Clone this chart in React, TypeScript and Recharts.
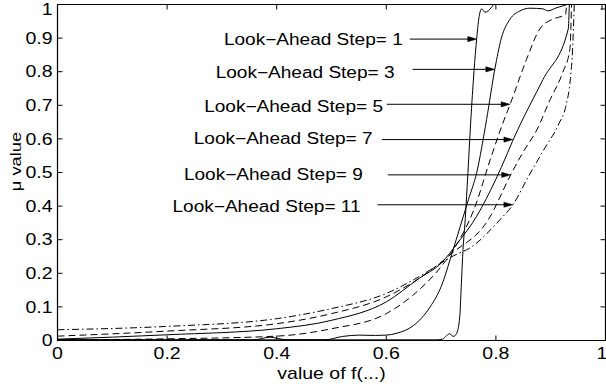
import React from 'react';
import { LineChart, Line, XAxis, YAxis, ReferenceDot, ReferenceLine, ReferenceArea, Label } from 'recharts';

const xTicks = [0, 0.2, 0.4, 0.6, 0.8, 1];
const yTicks = [0, 0.1, 0.2, 0.3, 0.4, 0.5, 0.6, 0.7, 0.8, 0.9, 1];

const step1X = [0, 0.2, 0.4, 0.6, 0.69, 0.703, 0.71, 0.716, 0.722, 0.728, 0.734, 0.737, 0.74, 0.744, 0.749, 0.754, 0.76, 0.765, 0.77, 0.774, 0.78, 0.786, 0.792, 0.796];
const step1Y = [0.002, 0.002, 0.002, 0.002, 0.002, 0.004, 0.015, 0.02, 0.012, 0.02, 0.07, 0.17, 0.27, 0.36, 0.5, 0.65, 0.8, 0.9, 0.97, 0.987, 0.977, 0.981, 0.992, 1.0];

const step3X = [0, 0.2, 0.36, 0.373, 0.388, 0.402, 0.42, 0.488, 0.52, 0.55, 0.58, 0.6, 0.62, 0.65, 0.68, 0.7, 0.72, 0.735, 0.75, 0.765, 0.783, 0.798, 0.81, 0.826, 0.844, 0.862, 0.886, 0.895, 0.91, 0.922, 0.93];
const step3Y = [0.002, 0.002, 0.002, 0.006, 0.01, 0.006, 0.002, 0.002, 0.012, 0.016, 0.015, 0.016, 0.022, 0.045, 0.1, 0.16, 0.26, 0.34, 0.42, 0.5, 0.658, 0.807, 0.9, 0.957, 0.981, 0.989, 0.987, 0.981, 0.99, 0.996, 1.0];

const step5X = [0, 0.2, 0.4, 0.5, 0.6, 0.648, 0.7, 0.73, 0.76, 0.79, 0.81, 0.826, 0.856, 0.88, 0.905, 0.922, 0.927, 0.929];
const step5Y = [0.002, 0.005, 0.013, 0.035, 0.08, 0.134, 0.22, 0.29, 0.39, 0.54, 0.635, 0.703, 0.837, 0.927, 0.957, 0.966, 0.97, 1.0];

const step7X = [0, 0.2, 0.4, 0.5, 0.6, 0.66, 0.7, 0.73, 0.765, 0.8, 0.84, 0.886, 0.932, 0.934];
const step7Y = [0.004, 0.017, 0.035, 0.06, 0.115, 0.185, 0.23, 0.29, 0.37, 0.48, 0.628, 0.777, 0.927, 1.0];

const step9X = [0, 0.2, 0.4, 0.5, 0.6, 0.66, 0.72, 0.786, 0.827, 0.849, 0.875, 0.899, 0.922, 0.935, 0.938];
const step9Y = [0.013, 0.028, 0.05, 0.08, 0.13, 0.185, 0.26, 0.359, 0.493, 0.559, 0.628, 0.717, 0.798, 0.867, 1.0];

const step11X = [0, 0.2, 0.4, 0.5, 0.6, 0.66, 0.72, 0.756, 0.807, 0.831, 0.86, 0.89, 0.915, 0.928, 0.936, 0.94, 0.943];
const step11Y = [0.032, 0.042, 0.065, 0.095, 0.14, 0.19, 0.25, 0.279, 0.359, 0.404, 0.49, 0.575, 0.645, 0.7, 0.78, 0.87, 1.0];

const labelTexts = ['Look\u2212Ahead Step= 1', 'Look\u2212Ahead Step= 3', 'Look\u2212Ahead Step= 5', 'Look\u2212Ahead Step= 7', 'Look\u2212Ahead Step= 9', 'Look\u2212Ahead Step= 11'];
const labelEndX = [0.63, 0.615, 0.594, 0.575, 0.557, 0.553];
const labelY = [0.897, 0.798, 0.697, 0.601, 0.496, 0.398];
const arrowY = [0.897, 0.807, 0.703, 0.598, 0.493, 0.404];
const arrowTailX = [0.643, 0.648, 0.601, 0.592, 0.603, 0.584];
const arrowTipX = [0.765, 0.798, 0.826, 0.831, 0.827, 0.831];

const FONT = '"Liberation Sans", Arial, Helvetica, sans-serif';
const SX = 1.22;

const pts = (xs: number[], ys: number[]) => xs.map((x, i) => ({ x, y: ys[i] }));

const series = [
  { name: 'step1', data: pts(step1X, step1Y), dash: undefined },
  { name: 'step3', data: pts(step3X, step3Y), dash: undefined },
  { name: 'step5', data: pts(step5X, step5Y), dash: '7 4' },
  { name: 'step7', data: pts(step7X, step7Y), dash: undefined },
  { name: 'step9', data: pts(step9X, step9Y), dash: '7 4' },
  { name: 'step11', data: pts(step11X, step11Y), dash: '7 3 1.5 3' },
];

const XTick = (p: any) => (
  <text transform={`translate(${p.x},${p.y}) scale(${SX},1)`} textAnchor="middle" dy="0.71em" fontSize={16} fontFamily={FONT} fill="#000">
    {String(p.payload.value)}
  </text>
);

const YTick = (p: any) => (
  <text transform={`translate(${p.x},${p.y}) scale(${SX},1)`} textAnchor="end" dy="0.355em" fontSize={16} fontFamily={FONT} fill="#000">
    {String(p.payload.value)}
  </text>
);

const ArrowHead = (p: any) => (
  <polygon points={`${p.cx},${p.cy} ${p.cx - 9},${p.cy - 2.6} ${p.cx - 9},${p.cy + 2.6}`} fill="#000" stroke="#000" strokeWidth={0.5} />
);

const makeLabel = (txt: string) => (p: any) => (
  <text transform={`translate(${p.cx},${p.cy}) scale(1.19,1)`} textAnchor="end" dy="0.355em" fontSize={16} fontFamily={FONT} fill="#000">
    {txt}
  </text>
);

const TopTick = (p: any) => <line x1={p.x} x2={p.x} y1={p.y} y2={p.y + 5} stroke="#000" strokeWidth={1} />;
const RightTick = (p: any) => <line x1={p.x} x2={p.x - 5} y1={p.y} y2={p.y} stroke="#000" strokeWidth={1} />;

const XLabel = (p: any) => {
  const vb = p.viewBox || {};
  return (
    <text transform={`translate(${vb.x + vb.width / 2},${vb.y + 38}) scale(${SX},1)`} textAnchor="middle" fontSize={16} fontFamily={FONT} fill="#000">
      value of f(...)
    </text>
  );
};

const YLabel = (p: any) => {
  const vb = p.viewBox || {};
  return (
    <text transform={`translate(${vb.x + 21},${vb.y + 157}) rotate(-90) scale(${SX},1)`} textAnchor="middle" fontSize={15} fontFamily={FONT} fill="#000">
      {'\u03bc value'}
    </text>
  );
};

export default function App() {
  return (
    <div style={{ position: 'absolute', left: 0, top: 0, width: 606, height: 386, background: '#fff' }}>
      <LineChart width={606} height={386} margin={{ top: 4.5, right: 0.5, left: 0, bottom: 0 }}>
        <XAxis dataKey="x" type="number" domain={[0, 1]} ticks={xTicks} allowDataOverflow height={45.5}
          tickSize={-5} tickMargin={12} tick={<XTick />} axisLine={{ stroke: '#000', strokeWidth: 1 }} tickLine={{ stroke: '#000' }}>
          <Label content={XLabel} />
        </XAxis>
        <XAxis xAxisId="top" orientation="top" mirror dataKey="x" type="number" domain={[0, 1]} ticks={xTicks} allowDataOverflow
          tickLine={false} tickMargin={0} tickSize={0} tick={<TopTick />} axisLine={{ stroke: '#000' }} />
        <YAxis type="number" domain={[0, 1]} ticks={yTicks} allowDataOverflow width={57.5}
          tickSize={-5} tickMargin={10} tick={<YTick />} axisLine={{ stroke: '#000' }} tickLine={{ stroke: '#000' }}>
          <Label content={YLabel} />
        </YAxis>
        <YAxis yAxisId="right" orientation="right" mirror type="number" domain={[0, 1]} ticks={yTicks} allowDataOverflow
          tickLine={false} tickMargin={0} tickSize={0} tick={<RightTick />} axisLine={{ stroke: '#000' }} />
        <ReferenceArea x1={0} x2={1} y1={0} y2={1} fill="none" fillOpacity={0} stroke="#000" strokeWidth={1.2} ifOverflow="visible" />
        <Line xAxisId="top" yAxisId="right" data={series[0].data} dataKey="y" stroke="none" strokeOpacity={0} dot={false} activeDot={false}
          isAnimationActive={false} legendType="none" />
        {series.map((s) => (
          <Line key={s.name} data={s.data} dataKey="y" type="monotone" stroke="#000" strokeWidth={1}
            strokeDasharray={s.dash} dot={false} activeDot={false} isAnimationActive={false} />
        ))}
        {arrowY.map((y, i) => (
          <ReferenceLine key={'al' + i} segment={[{ x: arrowTailX[i], y }, { x: arrowTipX[i] - 0.012, y }]} stroke="#000" strokeWidth={1} />
        ))}
        {arrowY.map((y, i) => (
          <ReferenceDot key={'ah' + i} x={arrowTipX[i]} y={y} r={3} shape={ArrowHead} />
        ))}
        {labelTexts.map((t, i) => (
          <ReferenceDot key={'lt' + i} x={labelEndX[i]} y={labelY[i]} r={3} shape={makeLabel(t)} />
        ))}
      </LineChart>
    </div>
  );
}
